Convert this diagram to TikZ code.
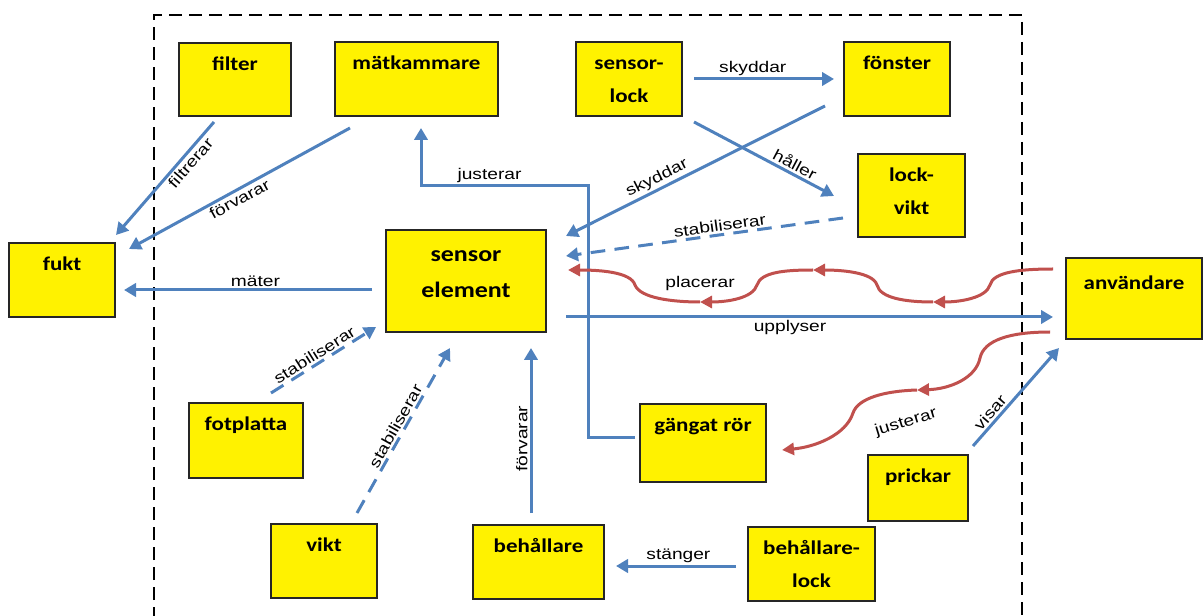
\documentclass[tikz,border=0pt]{standalone}
\usepackage{fontspec}
\newfontfamily\boxfont[FakeStretch=1.18]{Carlito}
\newfontfamily\edgefont[FakeStretch=1.24]{Liberation Sans}
\usetikzlibrary{arrows.meta,calc,fit}
\definecolor{cblue}{HTML}{4F81BD}
\definecolor{cred}{HTML}{C0504D}
\tikzset{
 box/.style={draw=black!85, fill=yellow, line width=0.8pt, inner sep=0pt, outer sep=0pt},
 blab/.style={anchor=base, yshift=-20.6pt, font=\boxfont\bfseries\fontsize{14.6}{24.75}\selectfont, align=center, inner sep=0pt},
 blabb/.style={anchor=base, yshift=-45.35pt, font=\boxfont\bfseries\fontsize{14.6}{24.75}\selectfont, align=center, inner sep=0pt},
 slab/.style={anchor=base, yshift=-51pt, font=\boxfont\bfseries\fontsize{16.5}{27}\selectfont, align=center, inner sep=0pt},
 conn/.style={draw=cblue, line width=2.25pt, -{Triangle[length=9pt,width=10pt]}},
 dconn/.style={conn, dash pattern=on 11pt off 7pt},
 rconn/.style={draw=cred, line width=2.25pt, -{Triangle[length=9pt,width=9pt]}},
 elab/.style={font=\edgefont\fontsize{11.6}{13}\selectfont, inner sep=1.5pt, text=black},
 frame/.style={draw=black, line width=2.2pt, dash pattern=on 9.75pt off 5.25pt}
}
\begin{document}
\begin{tikzpicture}[x=0.75pt,y=-0.75pt]
\useasboundingbox (0,0) rectangle (1203,616);
\draw[frame] (154,620) -- (154,15) -- (1022,15) -- (1022,620);

% boxes
\node[box, fit={(179,43) (291,116)}, label={[blab]north:filter}] (filter) {};
\node[box, fit={(335,42) (498,116)}, label={[blab]north:mätkammare}] (matk) {};
\node[box, fit={(576,42) (682,116)}, label={[blabb]north:{sensor-\\lock}}] (slock) {};
\node[box, fit={(844,42) (950,116)}, label={[blab]north:fönster}] (fonster) {};
\node[box, fit={(858,154) (965,237)}, label={[blabb]north:{lock-\\vikt}}] (lockvikt) {};
\node[box, fit={(1066,258) (1202,339)}, label={[blab, yshift=-3pt]north:användare}] (anv) {};
\node[box, fit={(9,243) (115,317)}, label={[blab]north:fukt}] (fukt) {};
\node[box, fit={(386,230) (546,332)}, label={[slab]north:{sensor\\element}}] (sens) {};
\node[box, fit={(189,403) (303,478)}, label={[blab]north:fotplatta}] (fot) {};
\node[box, fit={(271,524) (377,598)}, label={[blab]north:vikt}] (vikt) {};
\node[box, fit={(473,525) (604,599)}, label={[blab]north:behållare}] (beh) {};
\node[box, fit={(640,404) (766,482)}, label={[blab]north:gängat rör}] (gang) {};
\node[box, fit={(868,455) (968,521)}, label={[blab]north:prickar}] (prick) {};
\node[box, fit={(748,527) (875,601)}, label={[blabb]north:{behållare-\\lock}}] (behlock) {};

% blue connectors
\draw[conn] ($(filter.south)+(-21,6)$) -- node[elab, pos=0.31, sloped, below]{filtrerar} ($(fukt.north east)+(1,-8)$);
\draw[conn] ($(matk.south west)+(15,12)$) -- node[elab, pos=0.52, sloped, below]{förvarar} ($(fukt.north east)+(14,6)$);
\draw[conn] ($(sens.west)+(-14,9)$) -- node[elab, pos=0.47, above]{mäter} ($(fukt.east)+(9,10)$);
\draw[conn] ($(slock.east)+(12,0)$) -- node[elab, pos=0.42, above]{skyddar} ($(fonster.west)+(-10,0)$);
\draw[conn] ($(fonster.south west)+(-19,-10)$) -- node[elab, pos=0.63, sloped, above]{skyddar} ($(sens.north east)+(20,6)$);
\draw[conn] ($(slock.south east)+(12,6)$) -- node[elab, pos=0.69, sloped, above]{håller} ($(lockvikt.west)+(-24,0.5)$);
\draw[dconn] ($(lockvikt.west)+(-15,22.5)$) -- node[elab, pos=0.44, sloped, above]{stabiliserar} ($(sens.east)+(20,-25)$);
\draw[conn] ($(gang.west)+(-5,-5)$) -- (588,438) -- (588,186) -- node[elab, pos=0.59, above]{justerar} (421,186) -- ($(matk.south)+(4.5,12)$);
\draw[conn] ($(sens.east)+(20,36)$) -- node[elab, pos=0.46, below]{upplyser} ($(anv.west)+(-13,18.5)$);
\draw[conn] ($(prick.north east)+(5,-9)$) -- node[elab, pos=0.28, sloped, above]{visar} ($(anv.south west)+(-7,9)$);
\draw[dconn] ($(fot.north)+(25,-10)$) -- node[elab, pos=0.46, sloped, above]{stabiliserar} ($(sens.south west)+(-10,-5)$);
\draw[dconn] ($(vikt.north)+(33,-11)$) -- node[elab, pos=0.5, sloped, above]{stabiliserar} ($(sens.south)+(-16,16)$);
\draw[conn] ($(beh.north)+(-7.5,-12)$) -- node[elab, pos=0.45, sloped, above]{förvarar} ($(sens.south)+(65,16)$);
\draw[conn] ($(behlock.west)+(-12,2)$) -- node[elab, pos=0.48, above]{stänger} ($(beh.east)+(12,4)$);

% red connectors
\coordinate (pls) at ($(anv.west)+(-13,-29.5)$);
\coordinate (ple) at ($(sens.east)+(22,-11)$);
\draw[rconn] (pls) .. controls (1020,269) and (993,272) .. (990,285) .. controls (986,298) and (960,302) .. (933,302);
\draw[rconn] (933,302) .. controls (905,302) and (880,298) .. (877,285) .. controls (873,272) and (840,270) .. (813,270);
\draw[rconn] (813,270) .. controls (785,270) and (761,272) .. (757,285) .. controls (753,298) and (728,302) .. (700,302) node[elab, yshift=13.5pt]{placerar};
\draw[rconn] (700,302) .. controls (672,302) and (640,298) .. (635,285) .. controls (631,272) and (600,270) .. (ple);

\coordinate (jus) at ($(anv.west)+(-16,33.5)$);
\coordinate (jue) at ($(gang.east)+(16,7)$);
\draw[rconn] (jus) .. controls (1010,332) and (984,340) .. (980,358) .. controls (976,378) and (950,389) .. (917,390) node[elab, rotate=17, xshift=-15pt, yshift=-21pt]{justerar};
\draw[rconn] (917,390) .. controls (885,391) and (858,398) .. (853,413) .. controls (846,435) and (815,447) .. (jue);
\end{tikzpicture}
\end{document}
